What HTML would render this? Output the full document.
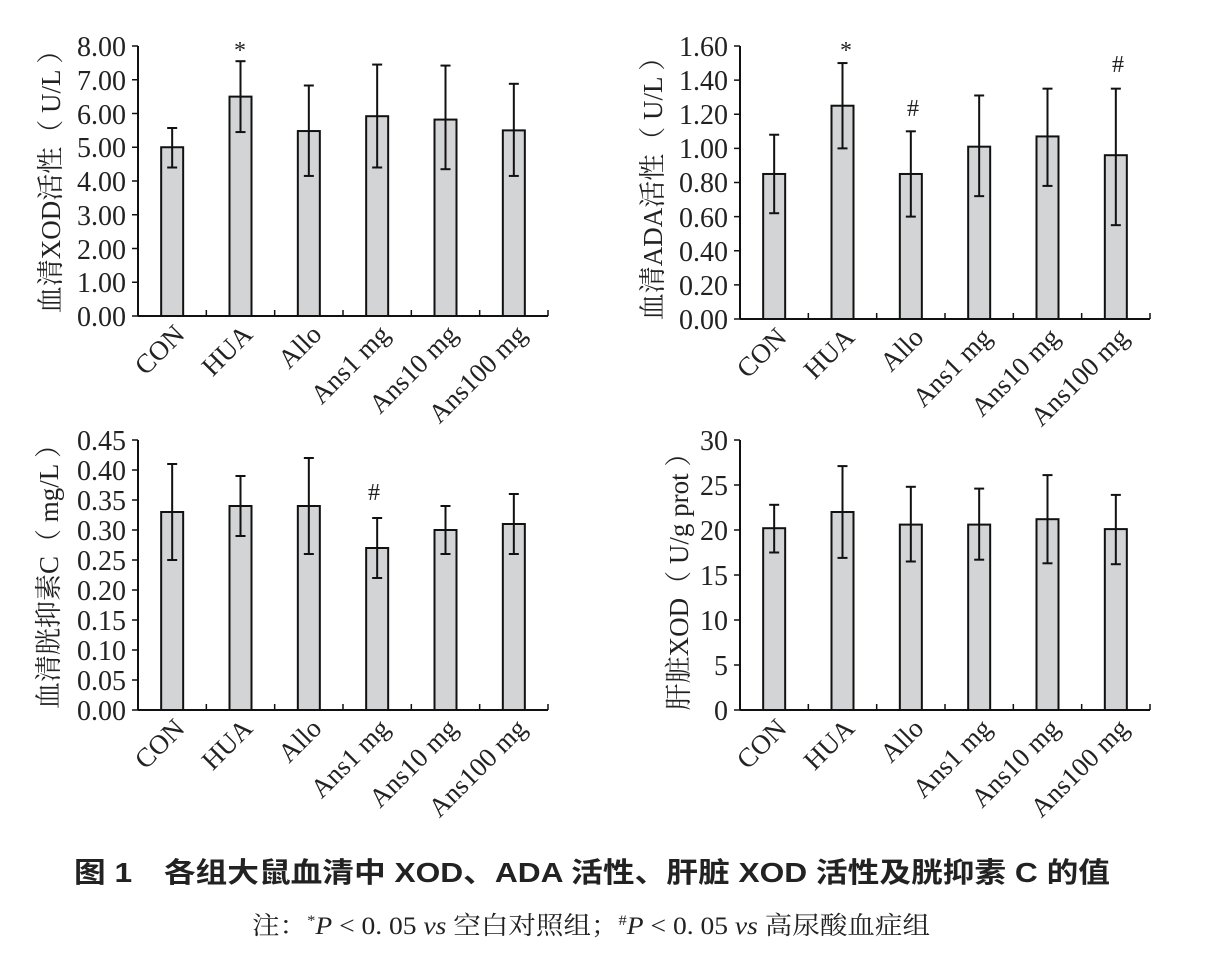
<!DOCTYPE html>
<html><head><meta charset="utf-8"><style>
body{margin:0;background:#fff;}
svg{display:block;}
.t{font-family:"Liberation Serif","Noto Serif CJK SC",serif;fill:#222;}
.y{font-size:28px;text-anchor:end;}
.c{font-size:27px;text-anchor:end;}
.ti{font-size:27px;text-anchor:middle;}
</style></head><body>
<svg id="s" width="1210" height="970" xmlns="http://www.w3.org/2000/svg">
<g class="t y">
<text x="126" y="56">8.00</text><text x="126" y="90">7.00</text><text x="126" y="124">6.00</text><text x="126" y="157">5.00</text><text x="126" y="191">4.00</text><text x="126" y="225">3.00</text><text x="126" y="259">2.00</text><text x="126" y="292">1.00</text><text x="126" y="326">0.00</text>
<text x="728" y="56">1.60</text><text x="728" y="90">1.40</text><text x="728" y="124">1.20</text><text x="728" y="158">1.00</text><text x="728" y="192">0.80</text><text x="728" y="227">0.60</text><text x="728" y="261">0.40</text><text x="728" y="295">0.20</text><text x="728" y="329">0.00</text>
<text x="126" y="450">0.45</text><text x="126" y="480">0.40</text><text x="126" y="510">0.35</text><text x="126" y="540">0.30</text><text x="126" y="570">0.25</text><text x="126" y="600">0.20</text><text x="126" y="630">0.15</text><text x="126" y="660">0.10</text><text x="126" y="690">0.05</text><text x="126" y="720">0.00</text>
<text x="728" y="450">30</text><text x="728" y="495">25</text><text x="728" y="540">20</text><text x="728" y="585">15</text><text x="728" y="630">10</text><text x="728" y="675">5</text><text x="728" y="720">0</text>
</g>
<g class="t ti">
<text transform="translate(60,175) rotate(-90)">血清XOD活性（ U/L ）</text>
<text transform="translate(662,182) rotate(-90)">血清ADA活性（ U/L ）</text>
<text transform="translate(58,570) rotate(-90)">血清胱抑素C（ mg/L ）</text>
<text transform="translate(688,575) rotate(-90)">肝脏XOD（ U/g prot ）</text>
</g>
<g class="t c">
<text transform="translate(186,336) rotate(-45)">CON</text><text transform="translate(254,336) rotate(-45)">HUA</text><text transform="translate(323,336) rotate(-45)">Allo</text><text transform="translate(391,336) rotate(-45)">Ans1 mg</text><text transform="translate(459,336) rotate(-45)">Ans10 mg</text><text transform="translate(528,336) rotate(-45)">Ans100 mg</text>
<text transform="translate(788,339) rotate(-45)">CON</text><text transform="translate(856,339) rotate(-45)">HUA</text><text transform="translate(925,339) rotate(-45)">Allo</text><text transform="translate(993,339) rotate(-45)">Ans1 mg</text><text transform="translate(1061,339) rotate(-45)">Ans10 mg</text><text transform="translate(1130,339) rotate(-45)">Ans100 mg</text>
<text transform="translate(186,730) rotate(-45)">CON</text><text transform="translate(254,730) rotate(-45)">HUA</text><text transform="translate(323,730) rotate(-45)">Allo</text><text transform="translate(391,730) rotate(-45)">Ans1 mg</text><text transform="translate(459,730) rotate(-45)">Ans10 mg</text><text transform="translate(528,730) rotate(-45)">Ans100 mg</text>
<text transform="translate(788,730) rotate(-45)">CON</text><text transform="translate(856,730) rotate(-45)">HUA</text><text transform="translate(925,730) rotate(-45)">Allo</text><text transform="translate(993,730) rotate(-45)">Ans1 mg</text><text transform="translate(1061,730) rotate(-45)">Ans10 mg</text><text transform="translate(1130,730) rotate(-45)">Ans100 mg</text>
</g>
<g class="t" style="font-size:24px;text-anchor:middle">
<text x="240" y="58">*</text>
<text x="846" y="58">*</text>
<text x="913" y="116">#</text>
<text x="1118" y="72">#</text>
<text x="374" y="500">#</text>
</g>
<text x="74" y="882" textLength="1036" lengthAdjust="spacingAndGlyphs" style="font-family:'Liberation Sans','Noto Sans CJK SC',sans-serif;font-weight:bold;font-size:28px;fill:#222">图 1　各组大鼠血清中 XOD、ADA 活性、肝脏 XOD 活性及胱抑素 C 的值</text>
<text x="252" y="934" textLength="678" lengthAdjust="spacingAndGlyphs" style="font-family:'Liberation Serif','Noto Serif CJK SC',serif;font-size:25px;fill:#222">注：<tspan font-size="15" dy="-9">*</tspan><tspan dy="9" font-style="italic">P</tspan> &lt; 0. 05 <tspan font-style="italic">vs</tspan> 空白对照组；<tspan font-size="15" dy="-9">#</tspan><tspan dy="9" font-style="italic">P</tspan> &lt; 0. 05 <tspan font-style="italic">vs</tspan> 高尿酸血症组</text>
<g id="g"></g>
</svg>
<script>
var P=[
{x:138,x2:548,top:46,bot:316,max:8,nt:8,v:[[5,4.4,5.57],[6.5,5.45,7.55],[5.48,4.15,6.83],[5.92,4.4,7.45],[5.82,4.35,7.42],[5.5,4.15,6.88]]},
{x:740,x2:1150,top:46,bot:319,max:1.6,nt:8,v:[[.85,.62,1.08],[1.25,1,1.5],[.85,.6,1.1],[1.01,.72,1.31],[1.07,.78,1.35],[.96,.55,1.35]]},
{x:138,x2:548,top:440,bot:710,max:.45,nt:9,v:[[.33,.25,.41],[.34,.29,.39],[.34,.26,.42],[.27,.22,.32],[.30,.26,.34],[.31,.26,.36]]},
{x:740,x2:1150,top:440,bot:710,max:30,nt:6,v:[[20.2,17.5,22.8],[22,16.9,27.1],[20.6,16.5,24.8],[20.6,16.7,24.6],[21.2,16.3,26.1],[20.1,16.2,23.9]]}];
var h='';
P.forEach(function(p){
var Y=function(v){return p.bot-(p.bot-p.top)*v/p.max};
var w=(p.x2-p.x)/6;
h+='<line x1="'+p.x+'" y1="'+p.top+'" x2="'+p.x+'" y2="'+p.bot+'" stroke="#111" stroke-width="2"/>';
h+='<line x1="'+p.x+'" y1="'+p.bot+'" x2="'+p.x2+'" y2="'+p.bot+'" stroke="#111" stroke-width="2"/>';
for(var i=0;i<=p.nt;i++){var y=p.top+(p.bot-p.top)*i/p.nt;h+='<line x1="'+(p.x-6)+'" y1="'+y+'" x2="'+p.x+'" y2="'+y+'" stroke="#111" stroke-width="1.5"/>';}
for(var i=1;i<=6;i++){var x=p.x+w*i;h+='<line x1="'+x+'" y1="'+(p.bot-6)+'" x2="'+x+'" y2="'+p.bot+'" stroke="#111" stroke-width="1.5"/>';}
p.v.forEach(function(d,i){var cx=p.x+w*(i+0.5);var y=Y(d[0]);
h+='<rect x="'+(cx-11)+'" y="'+y+'" width="22" height="'+(p.bot-y)+'" fill="#d3d4d6" stroke="#111" stroke-width="2"/>';
h+='<line x1="'+cx+'" y1="'+Y(d[1])+'" x2="'+cx+'" y2="'+Y(d[2])+'" stroke="#111" stroke-width="2"/>';
[d[1],d[2]].forEach(function(e){h+='<line x1="'+(cx-5)+'" y1="'+Y(e)+'" x2="'+(cx+5)+'" y2="'+Y(e)+'" stroke="#111" stroke-width="2"/>';});
});
});
document.getElementById('g').innerHTML=h;
</script>
</body></html>
